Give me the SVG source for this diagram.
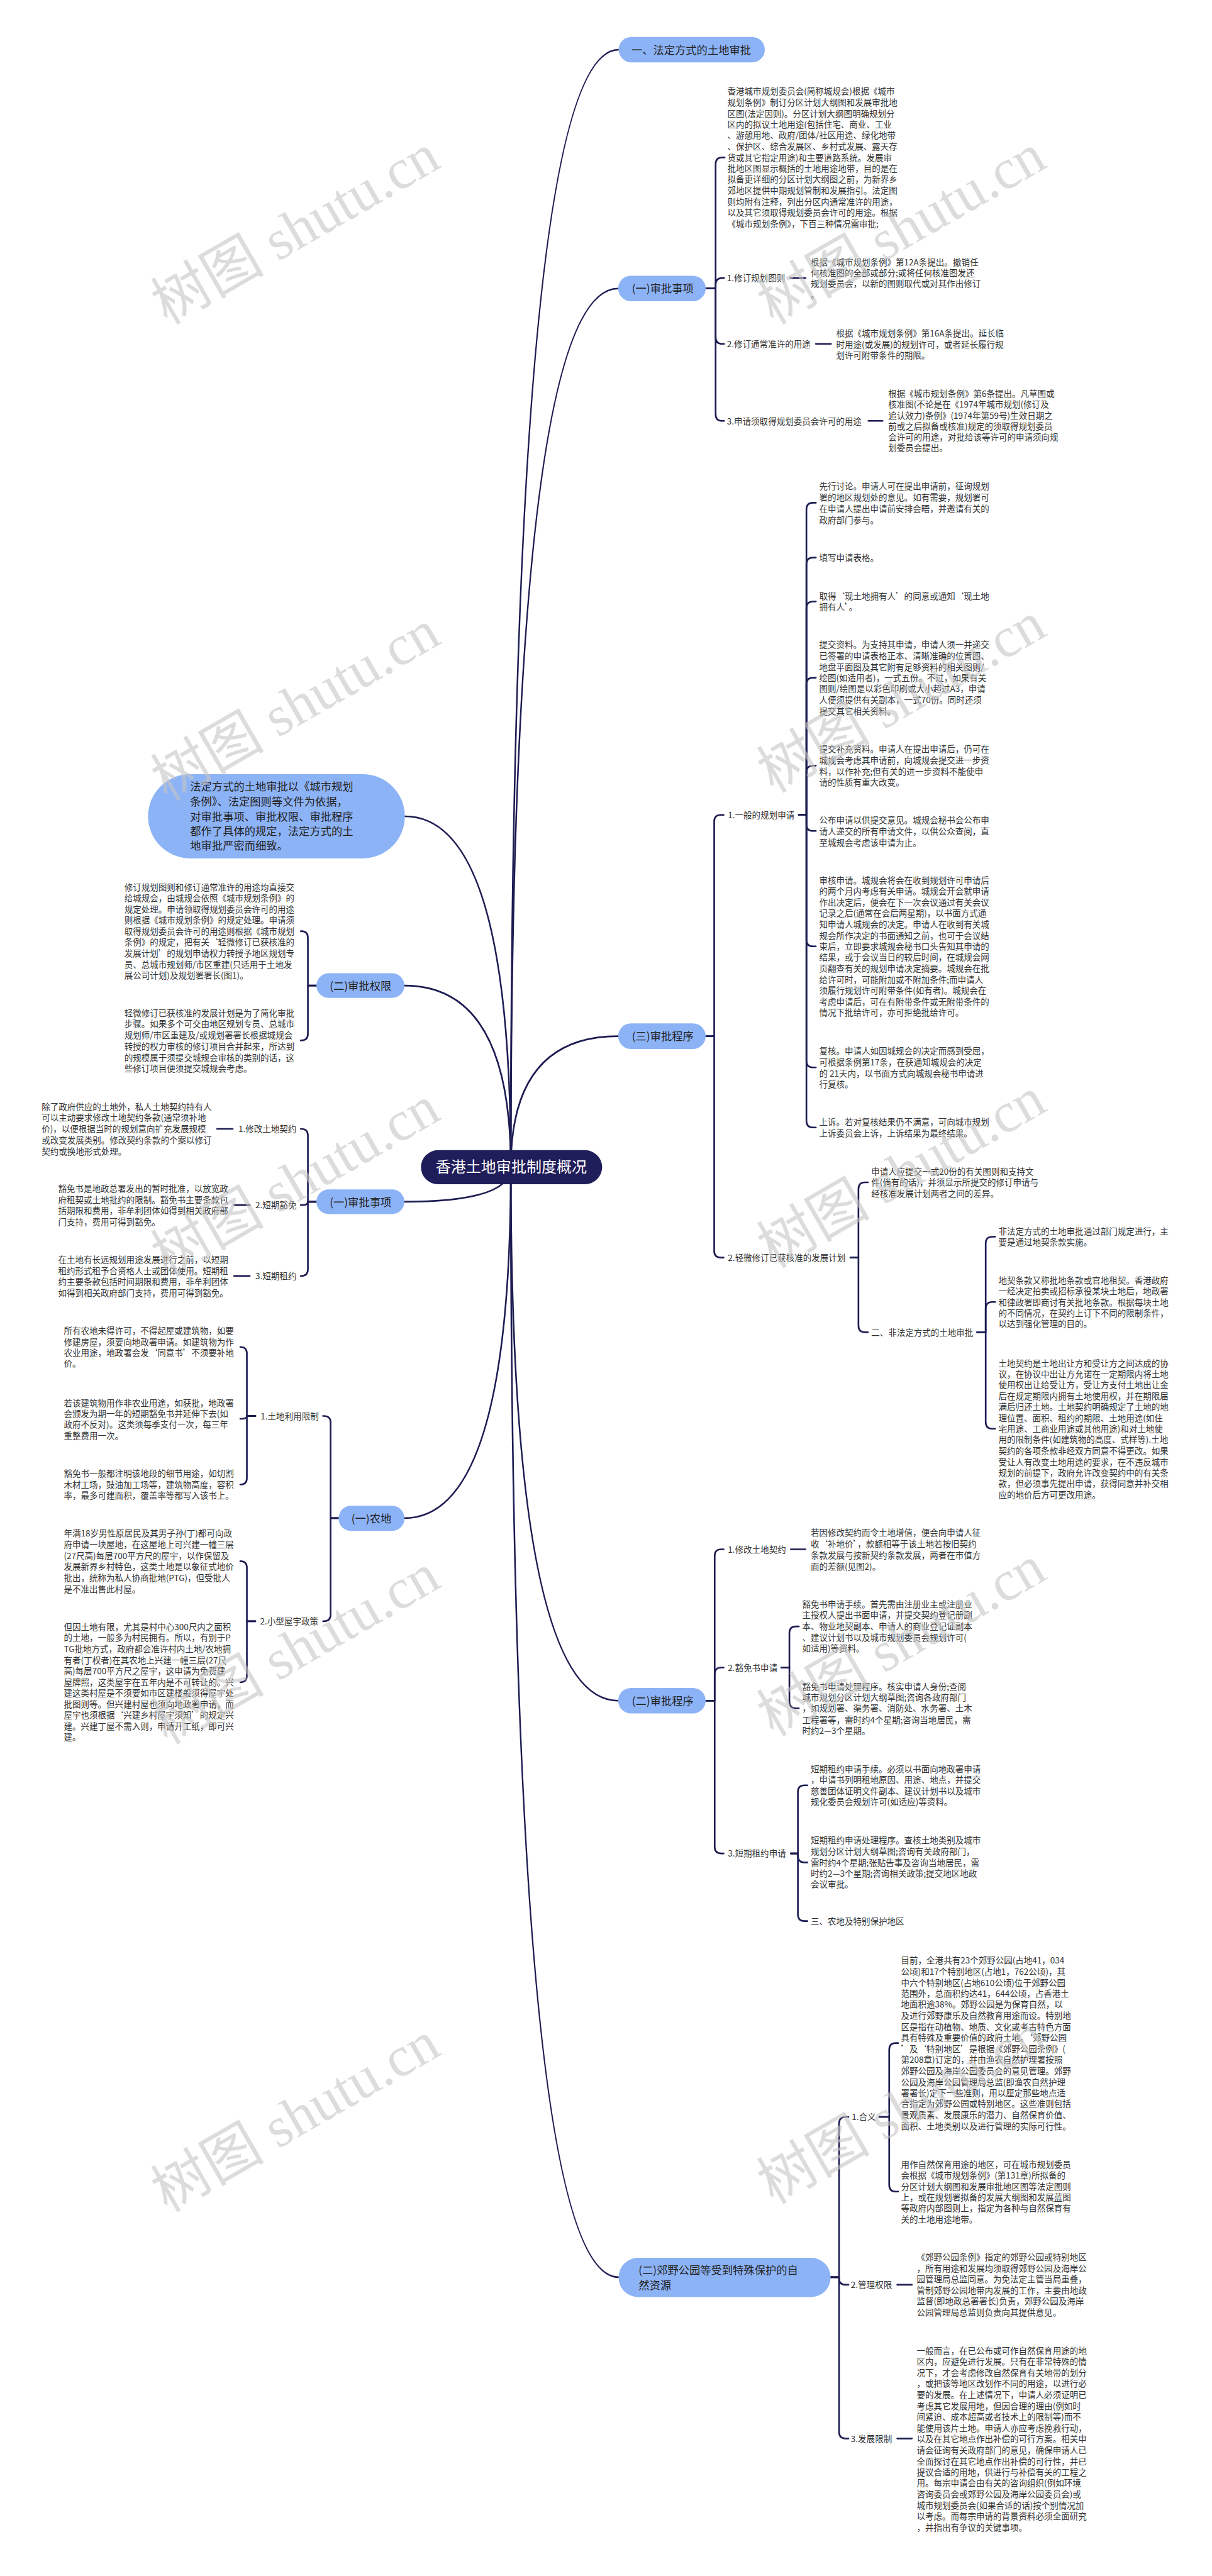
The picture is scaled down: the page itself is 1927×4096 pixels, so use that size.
<svg xmlns="http://www.w3.org/2000/svg" width="1927" height="4096" viewBox="0 0 1927 4096">
<style>
.l{fill:none;stroke:#1d1c52;stroke-width:3.5;stroke-linecap:round;stroke-linejoin:round}
.t{font-family:"Noto Sans CJK SC","Noto Sans",sans-serif;font-size:18px;fill:#333}
.n{font-family:"Noto Sans CJK SC","Noto Sans",sans-serif;font-size:23px;fill:#222}
.r{font-family:"Noto Sans CJK SC","Noto Sans",sans-serif;font-size:32px;fill:#fff}
.b{fill:#8db3f7}
.w{font-family:"Liberation Serif","Noto Sans CJK SC",serif;font-size:120px;fill:#c4c4c4;fill-opacity:0.6}
</style>
<rect width="1927" height="4096" fill="#fff"/>
<g transform="scale(0.752)">
<g id="connectors">
<path class="l" d="M1080 2468Q1080 105 1308 105"/>
<path class="l" d="M1080 2468Q1080 610 1307 610"/>
<path class="l" d="M1080 2468Q1080 2191 1307 2191"/>
<path class="l" d="M1080 2468Q1080 3596 1307 3596"/>
<path class="l" d="M1080 2468Q1080 4815 1308 4815"/>
<path class="l" d="M1080 2468Q1080 1726 856 1726"/>
<path class="l" d="M1080 2468Q1080 2084 855 2084"/>
<path class="l" d="M1080 2468Q1080 2541 855 2541"/>
<path class="l" d="M1080 2468Q1080 3210 855 3210"/>
<path class="l" d="M1492 610H1513V347Q1513 333 1527 333H1532"/>
<path class="l" d="M1492 610H1513V602Q1513 588 1527 588H1531"/>
<path class="l" d="M1492 610H1513V713Q1513 727 1527 727H1531"/>
<path class="l" d="M1492 610H1513V876Q1513 890 1527 890H1531"/>
<path class="l" d="M1671 588H1703M1725 727H1757M1836 890H1866"/>
<path class="l" d="M1492 2191H1510V1737Q1510 1723 1524 1723H1530"/>
<path class="l" d="M1492 2191H1510V2645Q1510 2659 1524 2659H1530"/>
<path class="l" d="M1689 1723H1705V1077Q1705 1063 1719 1063H1725"/>
<path class="l" d="M1689 1723H1705V1193Q1705 1179 1719 1179H1725"/>
<path class="l" d="M1689 1723H1705V1286Q1705 1272 1719 1272H1725"/>
<path class="l" d="M1689 1723H1705V1447Q1705 1433 1719 1433H1725"/>
<path class="l" d="M1689 1723H1705V1633Q1705 1619 1719 1619H1725"/>
<path class="l" d="M1689 1723H1705V1743Q1705 1757 1719 1757H1725"/>
<path class="l" d="M1689 1723H1705V1987Q1705 2001 1719 2001H1725"/>
<path class="l" d="M1689 1723H1705V2243Q1705 2257 1719 2257H1725"/>
<path class="l" d="M1689 1723H1705V2370Q1705 2384 1719 2384H1725"/>
<path class="l" d="M1798 2659H1815V2514Q1815 2500 1829 2500H1835"/>
<path class="l" d="M1798 2659H1815V2803Q1815 2817 1829 2817H1835"/>
<path class="l" d="M2066 2817H2084V2629Q2084 2615 2098 2615H2104"/>
<path class="l" d="M2066 2817H2084V2767Q2084 2753 2098 2753H2104"/>
<path class="l" d="M2066 2817H2084V3007Q2084 3021 2098 3021H2104"/>
<path class="l" d="M1492 3596H1511V3290Q1511 3276 1525 3276H1530"/>
<path class="l" d="M1492 3596H1511V3540Q1511 3526 1525 3526H1530"/>
<path class="l" d="M1492 3596H1511V3905Q1511 3919 1525 3919H1530"/>
<path class="l" d="M1672 3276H1703"/>
<path class="l" d="M1652 3526H1669V3453Q1669 3439 1683 3439H1689"/>
<path class="l" d="M1652 3526H1669V3598Q1669 3612 1683 3612H1689"/>
<path class="l" d="M1672 3919H1687V3789Q1687 3775 1701 3775H1707"/>
<path class="l" d="M1672 3919H1687V3924Q1687 3938 1701 3938H1707"/>
<path class="l" d="M1672 3919H1687V4048Q1687 4062 1701 4062H1707"/>
<path class="l" d="M1756 4815H1774V4490Q1774 4476 1788 4476H1794"/>
<path class="l" d="M1756 4815H1774V4817Q1774 4831 1788 4831H1794"/>
<path class="l" d="M1756 4815H1774V5142Q1774 5156 1788 5156H1794"/>
<path class="l" d="M1859 4476H1880V4334Q1880 4320 1894 4320H1899"/>
<path class="l" d="M1859 4476H1880V4620Q1880 4634 1894 4634H1899"/>
<path class="l" d="M1897 4831H1928M1897 5156H1928"/>
<path class="l" d="M669 2084H651V1983Q651 1969 637 1969H636"/>
<path class="l" d="M669 2084H651V2186Q651 2200 637 2200H636"/>
<path class="l" d="M669 2541H651V2401Q651 2387 637 2387H636"/>
<path class="l" d="M669 2541H651Q651 2548 640 2548H636"/>
<path class="l" d="M669 2541H651V2684Q651 2698 637 2698H636"/>
<path class="l" d="M459 2387H492M495 2548H528M495 2698H528"/>
<path class="l" d="M716 3210H699V3008Q699 2994 685 2994H683"/>
<path class="l" d="M716 3210H699V3414Q699 3428 685 3428H683"/>
<path class="l" d="M540 2994H522V2862Q522 2848 508 2848"/>
<path class="l" d="M540 2994H522Q522 3000 510 3000H508"/>
<path class="l" d="M540 2994H522V3125Q522 3139 508 3139"/>
<path class="l" d="M540 3428H522V3315Q522 3301 508 3301"/>
<path class="l" d="M540 3428H522V3543Q522 3557 508 3557"/>
</g>
<g id="root"><rect x="890" y="2432" width="383" height="72" rx="36" fill="#1f1d5a"/><text class="r" x="1081" y="2479" text-anchor="middle">香港土地审批制度概况</text></g>
<g id="n-fading1"><rect class="b" x="1308" y="78" width="309" height="54" rx="27"/><text class="n" x="1335" y="114">一、法定方式的土地审批</text></g>
<g id="n-shenpi-r"><rect class="b" x="1307" y="583" width="185" height="54" rx="27"/><text class="n" x="1336" y="619">(一)审批事项</text></g>
<g id="n-chengxu3"><rect class="b" x="1307" y="2164" width="185" height="54" rx="27"/><text class="n" x="1336" y="2200">(三)审批程序</text></g>
<g id="n-chengxu2"><rect class="b" x="1307" y="3569" width="185" height="54" rx="27"/><text class="n" x="1336" y="3605">(二)审批程序</text></g>
<g id="n-jiaoye"><rect class="b" x="1308" y="4774" width="448" height="83" rx="41"/><text class="n"><tspan x="1350" y="4809">(二)郊野公园等受到特殊保护的自</tspan><tspan x="1350" y="4840">然资源</tspan></text></g>
<g id="n-summary"><rect class="b" x="313" y="1637" width="543" height="178" rx="89"/><text class="n"><tspan x="402" y="1672">法定方式的土地审批以《城市规划</tspan><tspan x="402" y="1704">条例》、法定图则等文件为依据，</tspan><tspan x="402" y="1735">对审批事项、审批权限、审批程序</tspan><tspan x="402" y="1766">都作了具体的规定，法定方式的土</tspan><tspan x="402" y="1797">地审批严密而细致。</tspan></text></g>
<g id="n-quanxian"><rect class="b" x="669" y="2058" width="186" height="52" rx="26"/><text class="n" x="697" y="2093">(二)审批权限</text></g>
<g id="n-shenpi-l"><rect class="b" x="669" y="2515" width="186" height="52" rx="26"/><text class="n" x="697" y="2550">(一)审批事项</text></g>
<g id="n-nongdi"><rect class="b" x="716" y="3184" width="139" height="53" rx="26"/><text class="n" x="743" y="3219">(一)农地</text></g>
<g id="t-intro"><text class="t"><tspan x="1538" y="200">香港城市规划委员会(简称城规会)根据《城市</tspan><tspan x="1538" y="223">规划条例》制订分区计划大纲图和发展审批地</tspan><tspan x="1538" y="247">区图(法定因则)。分区计划大纲图明确规划分</tspan><tspan x="1538" y="270">区内的拟议土地用途(包括住宅、商业、工业</tspan><tspan x="1538" y="293">、游憩用地、政府/团体/社区用途、绿化地带</tspan><tspan x="1538" y="317">、保护区、综合发展区、乡村式发展、露天存</tspan><tspan x="1538" y="340">货或其它指定用途)和主要道路系统。发展审</tspan><tspan x="1538" y="363">批地区图显示概括的土地用途地带，目的是在</tspan><tspan x="1538" y="386">拟备更详细的分区计划大纲图之前，为新界乡</tspan><tspan x="1538" y="410">郊地区提供中期规划管制和发展指引。法定图</tspan><tspan x="1538" y="433">则均附有注释，列出分区内通常准许的用途，</tspan><tspan x="1538" y="456">以及其它须取得规划委员会许可的用途。根据</tspan><tspan x="1538" y="480">《城市规划条例》，下百三种情况需审批;</tspan></text></g>
<g id="t-r1"><text class="t" x="1537" y="595">1.修订规划图则</text><text class="t"><tspan x="1714" y="561">根据《城市规划条例》第12A条提出。撤销任</tspan><tspan x="1714" y="584">何核准图的全部或部分;或将任何核准图发还</tspan><tspan x="1714" y="607">规划委员会，以新的图则取代或对其作出修订</tspan><tspan x="1714" y="630">。</tspan></text></g>
<g id="t-r2"><text class="t" x="1537" y="734">2.修订通常准许的用途</text><text class="t"><tspan x="1768" y="712">根据《城市规划条例》第16A条提出。延长临</tspan><tspan x="1768" y="735">时用途(或发展)的规划许可，或者延长履行规</tspan><tspan x="1768" y="758">划许可附带条件的期限。</tspan></text></g>
<g id="t-r3"><text class="t" x="1537" y="897">3.申请须取得规划委员会许可的用途</text><text class="t"><tspan x="1878" y="839">根据《城市规划条例》第6条提出。凡草图或</tspan><tspan x="1878" y="862">核准图(不论是在《1974年城市规划(修订及</tspan><tspan x="1878" y="885">追认效力)条例》(1974年第59号)生效日期之</tspan><tspan x="1878" y="908">前或之后拟备或核准)规定的须取得规划委员</tspan><tspan x="1878" y="931">会许可的用途，对批给该等许可的申请须向规</tspan><tspan x="1878" y="954">划委员会提出。</tspan></text></g>
<g id="t-general"><text class="t" x="1539" y="1730">1.一般的规划申请</text>
<text class="t"><tspan x="1732" y="1035">先行讨论。申请人可在提出申请前，征询规划</tspan><tspan x="1732" y="1059">署的地区规划处的意见。如有需要，规划署可</tspan><tspan x="1732" y="1082">在申请人提出申请前安排会晤，并邀请有关的</tspan><tspan x="1732" y="1106">政府部门参与。</tspan></text>
<text class="t" x="1732" y="1186">填写申请表格。</text>
<text class="t"><tspan x="1732" y="1267">取得‘现土地拥有人’的同意或通知‘现土地</tspan><tspan x="1732" y="1290">拥有人’。</tspan></text>
<text class="t"><tspan x="1732" y="1370">提交资料。为支持其申请，申请人须一并递交</tspan><tspan x="1732" y="1393">已签署的申请表格正本、清晰准确的位置图、</tspan><tspan x="1732" y="1417">地盘平面图及其它附有足够资料的相关图则/</tspan><tspan x="1732" y="1440">绘图(如适用者)，一式五份。不过，如果有关</tspan><tspan x="1732" y="1463">图则/绘图是以彩色印刷或大小超过A3，申请</tspan><tspan x="1732" y="1487">人便须提供有关副本，一式70份。同时还须</tspan><tspan x="1732" y="1510">提交其它相关资料。</tspan></text>
<text class="t"><tspan x="1732" y="1591">提交补充资料。申请人在提出申请后，仍可在</tspan><tspan x="1732" y="1614">城规会考虑其申请前，向城规会提交进一步资</tspan><tspan x="1732" y="1638">料，以作补充;但有关的进一步资料不能使申</tspan><tspan x="1732" y="1661">请的性质有重大改变。</tspan></text>
<text class="t"><tspan x="1732" y="1741">公布申请以供提交意见。城规会秘书会公布申</tspan><tspan x="1732" y="1764">请人递交的所有申请文件，以供公众查阅，直</tspan><tspan x="1732" y="1788">至城规会考虑该申请为止。</tspan></text>
<text class="t"><tspan x="1732" y="1868">审核申请。城规会将会在收到规划许可申请后</tspan><tspan x="1732" y="1891">的两个月内考虑有关申请。城规会开会就申请</tspan><tspan x="1732" y="1915">作出决定后，便会在下一次会议通过有关会议</tspan><tspan x="1732" y="1938">记录之后(通常在会后两星期)，以书面方式通</tspan><tspan x="1732" y="1961">知申请人城规会的决定。申请人在收到有关城</tspan><tspan x="1732" y="1985">规会所作决定的书面通知之前，也可于会议结</tspan><tspan x="1732" y="2008">束后，立即要求城规会秘书口头告知其申请的</tspan><tspan x="1732" y="2031">结果，或于会议当日的较后时间，在城规会网</tspan><tspan x="1732" y="2055">页翻查有关的规划申请决定摘要。城规会在批</tspan><tspan x="1732" y="2078">给许可时，可能附加或不附加条件;而申请人</tspan><tspan x="1732" y="2101">须履行规划许可附带条件(如有者)。城规会在</tspan><tspan x="1732" y="2125">考虑申请后，可在有附带条件或无附带条件的</tspan><tspan x="1732" y="2148">情况下批给许可，亦可拒绝批给许可。</tspan></text>
<text class="t"><tspan x="1732" y="2229">复核。申请人如因城规会的决定而感到受屈，</tspan><tspan x="1732" y="2253">可根据条例第17条，在获通知城规会的决定</tspan><tspan x="1732" y="2276">的 21天内，以书面方式向城规会秘书申请进</tspan><tspan x="1732" y="2299">行复核。</tspan></text>
<text class="t"><tspan x="1732" y="2379">上诉。若对复核结果仍不满意，可向城市规划</tspan><tspan x="1732" y="2403">上诉委员会上诉，上诉结果为最终结果。</tspan></text></g>
<g id="t-minor"><text class="t" x="1539" y="2666">2.轻微修订已获核准的发展计划</text>
<text class="t"><tspan x="1842" y="2484">申请人应提交一式20份的有关图则和支持文</tspan><tspan x="1842" y="2507">件(倘有的话)，并须显示所提交的修订申请与</tspan><tspan x="1842" y="2530">经核准发展计划两者之间的差异。</tspan></text>
<text class="t" x="1842" y="2824">二、非法定方式的土地审批</text>
<text class="t"><tspan x="2111" y="2610">非法定方式的土地审批通过部门规定进行，主</tspan><tspan x="2111" y="2633">要是通过地契条款实施。</tspan></text>
<text class="t"><tspan x="2111" y="2714">地契条款又称批地条款或官地租契。香港政府</tspan><tspan x="2111" y="2737">一经决定拍卖或招标承役某块土地后，地政署</tspan><tspan x="2111" y="2760">和律政署即商讨有关批地条款。根据每块土地</tspan><tspan x="2111" y="2783">的不同情况，在契约上订下不同的限制条件，</tspan><tspan x="2111" y="2806">以达到强化管理的目的。</tspan></text>
<text class="t"><tspan x="2111" y="2889">土地契约是土地出让方和受让方之间达成的协</tspan><tspan x="2111" y="2912">议，在协议中出让方允诺在一定期限内将土地</tspan><tspan x="2111" y="2935">使用权出让给受让方，受让方支付土地出让金</tspan><tspan x="2111" y="2959">后在规定期限内拥有土地使用权，并在期限届</tspan><tspan x="2111" y="2982">满后归还土地。土地契约明确规定了土地的地</tspan><tspan x="2111" y="3005">理位置、面积、租约的期限、土地用途(如住</tspan><tspan x="2111" y="3028">宅用途、工商业用途或其他用途)和对土地使</tspan><tspan x="2111" y="3051">用的限制条件(如建筑物的高度、式样等).土地</tspan><tspan x="2111" y="3075">契约的各项条款非经双方同意不得更改。如果</tspan><tspan x="2111" y="3098">受让人有改变土地用途的要求，在不违反城市</tspan><tspan x="2111" y="3121">规划的前提下，政府允许改变契约中的有关条</tspan><tspan x="2111" y="3144">款，但必须事先提出申请，获得同意并补交相</tspan><tspan x="2111" y="3167">应的地价后方可更改用途。</tspan></text></g>
<g id="t-proc2"><text class="t" x="1539" y="3283">1.修改土地契约</text>
<text class="t"><tspan x="1714" y="3247">若因修改契约而令土地增值，便会向申请人征</tspan><tspan x="1714" y="3271">收‘补地价’，款额相等于该土地若按旧契约</tspan><tspan x="1714" y="3295">条款发展与按新契约条款发展，两者在市值方</tspan><tspan x="1714" y="3319">面的差额(见图2)。</tspan></text>
<text class="t" x="1539" y="3533">2.豁免书申请</text>
<text class="t"><tspan x="1696" y="3399">豁免书申请手续。首先需由注册业主或注册业</tspan><tspan x="1696" y="3422">主授权人提出书面申请，并提交契约登记册副</tspan><tspan x="1696" y="3446">本、物业地契副本、申请人的商业登记证副本</tspan><tspan x="1696" y="3469">、建议计划书以及城市规划委员会规划许可(</tspan><tspan x="1696" y="3492">如适用)等资料。</tspan></text>
<text class="t"><tspan x="1696" y="3573">豁免书申请处理程序。核实申请人身份;查阅</tspan><tspan x="1696" y="3596">城市规划分区计划大纲草图;咨询各政府部门</tspan><tspan x="1696" y="3619">，如规划署、渠务署、消防处、水务署、土木</tspan><tspan x="1696" y="3643">工程署等，需时约4个星期;咨询当地居民，需</tspan><tspan x="1696" y="3666">时约2—3个星期。</tspan></text>
<text class="t" x="1539" y="3926">3.短期租约申请</text>
<text class="t"><tspan x="1714" y="3747">短期租约申请手续。必须以书面向地政署申请</tspan><tspan x="1714" y="3770">，申请书列明租地原因、用途、地点，并提交</tspan><tspan x="1714" y="3794">慈善团体证明文件副本、建议计划书以及城市</tspan><tspan x="1714" y="3817">规化委员会规划许可(如适应)等资料。</tspan></text>
<text class="t"><tspan x="1714" y="3898">短期租约申请处理程序。查核土地类别及城市</tspan><tspan x="1714" y="3921">规划分区计划大纲草图;咨询有关政府部门，</tspan><tspan x="1714" y="3945">需时约4个星期;张贴告事及咨询当地居民，需</tspan><tspan x="1714" y="3968">时约2—3个星期;咨询相关政策;提交地区地政</tspan><tspan x="1714" y="3991">会议审批。</tspan></text>
<text class="t" x="1714" y="4069">三、农地及特别保护地区</text></g>
<g id="t-jiaoye"><text class="t" x="1801" y="4483">1.合义</text>
<text class="t"><tspan x="1905" y="4152">目前，全港共有23个郊野公园(占地41，034</tspan><tspan x="1905" y="4175">公顷)和17个特别地区(占地1，762公顷)，其</tspan><tspan x="1905" y="4199">中六个特别地区(占地610公顷)位于郊野公园</tspan><tspan x="1905" y="4222">范围外，总面积约达41，644公顷，占香港土</tspan><tspan x="1905" y="4245">地面积逾38%。郊野公园是为保育自然，以</tspan><tspan x="1905" y="4269">及进行郊野康乐及自然教育用途而设。特别地</tspan><tspan x="1905" y="4292">区是指在动植物、地质、文化或考古特色方面</tspan><tspan x="1905" y="4315">具有特殊及重要价值的政府土地。‘郊野公园</tspan><tspan x="1905" y="4339">’及‘特别地区’是根据《郊野公园条例》(</tspan><tspan x="1905" y="4362">第208章)订定的，并由渔农自然护理署按照</tspan><tspan x="1905" y="4385">郊野公园及海岸公园委员会的意见管理。郊野</tspan><tspan x="1905" y="4409">公园及海岸公园管理局总监(即渔农自然护理</tspan><tspan x="1905" y="4432">署署长)定下一些准则，用以厘定那些地点适</tspan><tspan x="1905" y="4455">合指定为郊野公园或特别地区。这些准则包括</tspan><tspan x="1905" y="4479">景观质素、发展康乐的潜力、自然保育价值、</tspan><tspan x="1905" y="4502">面积、土地类别以及进行管理的实际可行性。</tspan></text>
<text class="t"><tspan x="1905" y="4584">用作自然保育用途的地区，可在城市规划委员</tspan><tspan x="1905" y="4607">会根据《城市规划条例》(第131章)所拟备的</tspan><tspan x="1905" y="4630">分区计划大纲图和发展审批地区图等法定图则</tspan><tspan x="1905" y="4653">上，或在规划署拟备的发展大纲图和发展蓝图</tspan><tspan x="1905" y="4676">等政府内部图则上，指定为各种与自然保育有</tspan><tspan x="1905" y="4699">关的土地用途地带。</tspan></text>
<text class="t" x="1799" y="4838">2.管理权限</text>
<text class="t"><tspan x="1938" y="4779">《郊野公园条例》指定的郊野公园或特别地区</tspan><tspan x="1938" y="4803">，所有用途和发展均须取得郊野公园及海岸公</tspan><tspan x="1938" y="4826">园管理局总监同意。为免法定主管当局重叠，</tspan><tspan x="1938" y="4850">管制郊野公园地带内发展的工作，主要由地政</tspan><tspan x="1938" y="4873">监督(即地政总署署长)负责，郊野公园及海岸</tspan><tspan x="1938" y="4896">公园管理局总监则负责向其提供意见。</tspan></text>
<text class="t" x="1799" y="5163">3.发展限制</text>
<text class="t"><tspan x="1938" y="4977">一般而言，在已公布或可作自然保育用途的地</tspan><tspan x="1938" y="5000">区内，应避免进行发展。只有在非常特殊的情</tspan><tspan x="1938" y="5024">况下，才会考虑修改自然保育有关地带的划分</tspan><tspan x="1938" y="5047">，或把该等地区改划作不同的用途，以进行必</tspan><tspan x="1938" y="5070">要的发展。在上述情况下，申请人必须证明已</tspan><tspan x="1938" y="5094">考虑其它发展用地，但因合理的理由(例如时</tspan><tspan x="1938" y="5117">间紧迫、成本超高或者技术上的限制等)而不</tspan><tspan x="1938" y="5141">能使用该片土地。申请人亦应考虑挽救行动，</tspan><tspan x="1938" y="5164">以及在其它地点作出补偿的可行方案。相关申</tspan><tspan x="1938" y="5187">请会征询有关政府部门的意见，确保申请人已</tspan><tspan x="1938" y="5211">全面探讨在其它地点作出补偿的可行性，并已</tspan><tspan x="1938" y="5234">提议合适的用地，供进行与补偿有关的工程之</tspan><tspan x="1938" y="5257">用。每宗申请会由有关的咨询组织(例如环境</tspan><tspan x="1938" y="5281">咨询委员会或郊野公园及海岸公园委员会)或</tspan><tspan x="1938" y="5304">城市规划委员会(如果合适的话)按个别情况加</tspan><tspan x="1938" y="5327">以考虑。而每宗申请的背景资料必须全面研究</tspan><tspan x="1938" y="5351">，并指出有争议的关键事项。</tspan></text></g>
<g id="t-quanxian"><text class="t"><tspan x="263" y="1883">修订规划图则和修订通常准许的用途均直接交</tspan><tspan x="263" y="1906">给城规会，由城规会依照《城市规划条例》的</tspan><tspan x="263" y="1929">规定处理。申请领取得规划委员会许可的用途</tspan><tspan x="263" y="1952">则根据《城市规划条例》的规定处理。申请须</tspan><tspan x="263" y="1976">取得规划委员会许可的用途则根据《城市规划</tspan><tspan x="263" y="1999">条例》的规定，把有关‘轻微修订已获核准的</tspan><tspan x="263" y="2022">发展计划’的规划申请权力转授予地区规划专</tspan><tspan x="263" y="2046">员、总城市规划师/市区重建(只适用于土地发</tspan><tspan x="263" y="2069">展公司计划)及规划署署长(图1)。</tspan></text>
<text class="t"><tspan x="263" y="2149">轻微修订已获核准的发展计划是为了简化审批</tspan><tspan x="263" y="2172">步骤。如果多个可交由地区规划专员、总城市</tspan><tspan x="263" y="2196">规划师/市区重建及/或规划署署长根据城规会</tspan><tspan x="263" y="2219">转授的权力审核的修订项目合并起来，所达到</tspan><tspan x="263" y="2243">的规模属于须提交城规会审核的类别的话，这</tspan><tspan x="263" y="2266">些修订项目便须提交城规会考虑。</tspan></text></g>
<g id="t-shixiang-l"><text class="t" x="504" y="2394">1.修改土地契约</text>
<text class="t"><tspan x="88" y="2347">除了政府供应的土地外，私人土地契约持有人</tspan><tspan x="88" y="2370">可以主动要求修改土地契约条款(通常须补地</tspan><tspan x="88" y="2394">价)，以便根据当时的规划意向扩充发展规模</tspan><tspan x="88" y="2417">或改变发展类别。修改契约条款的个案以修订</tspan><tspan x="88" y="2441">契约或换地形式处理。</tspan></text>
<text class="t" x="540" y="2555">2.短期豁免</text>
<text class="t"><tspan x="123" y="2520">豁免书是地政总署发出的暂时批准，以放宽政</tspan><tspan x="123" y="2544">府租契或土地批约的限制。豁免书主要条款包</tspan><tspan x="123" y="2567">括期限和费用，非牟利团体如得到相关政府部</tspan><tspan x="123" y="2591">门支持，费用可得到豁免。</tspan></text>
<text class="t" x="540" y="2705">3.短期租约</text>
<text class="t"><tspan x="123" y="2670">在土地有长远规划用途发展进行之前，以短期</tspan><tspan x="123" y="2694">租约形式租予合资格人士或团体使用。短期租</tspan><tspan x="123" y="2717">约主要条款包括时间期限和费用，非牟利团体</tspan><tspan x="123" y="2741">如得到相关政府部门支持，费用可得到豁免。</tspan></text></g>
<g id="t-nongdi"><text class="t" x="551" y="3001">1.土地利用限制</text>
<text class="t"><tspan x="135" y="2820">所有农地未得许可，不得起屋或建筑物，如要</tspan><tspan x="135" y="2844">修建房屋，须要向地政署申请。如建筑物为作</tspan><tspan x="135" y="2867">农业用途，地政署会发‘同意书’不须要补地</tspan><tspan x="135" y="2890">价。</tspan></text>
<text class="t"><tspan x="135" y="2973">若该建筑物用作非农业用途，如获批，地政署</tspan><tspan x="135" y="2996">会颁发为期一年的短期豁免书并延伸下去(如</tspan><tspan x="135" y="3019">政府不反对)。这类须每季支付一次，每三年</tspan><tspan x="135" y="3042">重整费用一次。</tspan></text>
<text class="t"><tspan x="135" y="3123">豁免书一般都注明该地段的细节用途，如切割</tspan><tspan x="135" y="3146">木材工场，豉油加工场等，建筑物高度，容积</tspan><tspan x="135" y="3169">率，最多可建面积，覆盖率等都写入该书上。</tspan></text>
<text class="t" x="550" y="3435">2.小型屋宇政策</text>
<text class="t"><tspan x="135" y="3249">年满18岁男性原居民及其男子孙(丁)都可向政</tspan><tspan x="135" y="3273">府申请一块屋地，在这屋地上可兴建一幢三层</tspan><tspan x="135" y="3296">(27尺高)每层700平方尺的屋宇，以作保留及</tspan><tspan x="135" y="3319">发展新界乡村特色，这类土地是以象征式地价</tspan><tspan x="135" y="3343">批出，统称为私人协商批地(PTG)，但受批人</tspan><tspan x="135" y="3367">是不准出售此村屋。</tspan></text>
<text class="t"><tspan x="135" y="3447">但因土地有限，尤其是村中心300尺内之面积</tspan><tspan x="135" y="3470">的土地，一般多为村民拥有。所以，有别于P</tspan><tspan x="135" y="3494">TG批地方式，政府都会准许村内土地/农地拥</tspan><tspan x="135" y="3517">有者(丁权者)在其农地上兴建一幢三层(27尺</tspan><tspan x="135" y="3540">高)每层700平方尺之屋宇，这申请为免费建</tspan><tspan x="135" y="3564">屋牌照，这类屋宇在五年内是不可转让的。兴</tspan><tspan x="135" y="3587">建这类村屋是不须要如市区建楼般须得屋宇处</tspan><tspan x="135" y="3610">批图则等。但兴建村屋也须向地政署申请，而</tspan><tspan x="135" y="3633">屋宇也须根据‘兴建乡村屋宇须知’的规定兴</tspan><tspan x="135" y="3657">建。兴建丁屋不需入则，申请开工纸，即可兴</tspan><tspan x="135" y="3680">建。</tspan></text></g>
<g id="watermarks">
<text class="w" text-anchor="middle" transform="translate(645 520) rotate(-30)">树图 shutu.cn</text>
<text class="w" text-anchor="middle" transform="translate(645 1527) rotate(-30)">树图 shutu.cn</text>
<text class="w" text-anchor="middle" transform="translate(645 2533) rotate(-30)">树图 shutu.cn</text>
<text class="w" text-anchor="middle" transform="translate(645 3522) rotate(-30)">树图 shutu.cn</text>
<text class="w" text-anchor="middle" transform="translate(645 4511) rotate(-30)">树图 shutu.cn</text>
<text class="w" text-anchor="middle" transform="translate(1926 520) rotate(-30)">树图 shutu.cn</text>
<text class="w" text-anchor="middle" transform="translate(1926 1510) rotate(-30)">树图 shutu.cn</text>
<text class="w" text-anchor="middle" transform="translate(1926 2515) rotate(-30)">树图 shutu.cn</text>
<text class="w" text-anchor="middle" transform="translate(1926 3505) rotate(-30)">树图 shutu.cn</text>
<text class="w" text-anchor="middle" transform="translate(1926 4494) rotate(-30)">树图 shutu.cn</text>
</g>
</g>
</svg>
